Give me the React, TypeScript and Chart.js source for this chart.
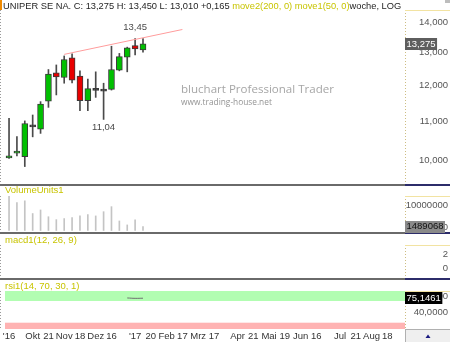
import React, { useEffect, useRef } from 'react';
import { Chart, registerables } from 'chart.js';

Chart.register(...registerables);

// ---------------- data ----------------
const weeks = ['16.09.16', '23.09.16', '30.09.16', '07.10.16', '14.10.16', '21.10.16', '28.10.16', '04.11.16', '11.11.16', '18.11.16', '25.11.16', '02.12.16', '09.12.16', '16.12.16', '23.12.16', '30.12.16', '06.01.17', '13.01.17'];
const opens = [10.05, 10.17, 10.08, 10.84, 10.78, 11.54, 12.37, 12.23, 12.83, 12.27, 11.56, 11.85, 11.83, 11.88, 12.45, 12.85, 13.22, 13.08];
const highs = [11.07, 10.59, 11.0, 11.16, 11.53, 12.47, 12.61, 12.89, 12.96, 12.43, 12.18, 12.4, 12.06, 13.2, 12.97, 13.17, 13.45, 13.45];
const lows = [10.04, 10.1, 9.84, 10.58, 10.67, 11.37, 11.72, 12.06, 12.07, 11.28, 11.28, 11.65, 11.04, 11.86, 12.43, 12.4, 12.92, 13.01];
const closes = [10.1, 10.21, 10.93, 10.84, 11.46, 12.33, 12.25, 12.78, 12.15, 11.56, 11.9, 11.85, 11.83, 12.47, 12.87, 13.15, 13.11, 13.275];
const volumes = [12900000, 10500000, 11200000, 6400000, 7750000, 5200000, 4100000, 4500000, 4900000, 5500000, 6000000, 5500000, 7100000, 9000000, 3600000, 2100000, 4000000, 1489068];
const swingHighIdx = 16;
const swingLowIdx = 12;
const trendX = [7, 22];
const trendY = [12.94, 13.75];
const rsiX = [15, 16, 17];
const rsiY = [75.6, 74.9, 75.1461];
const macdY: number[] = [];
const rsiUpper = 70;
const rsiLower = 30;
const priceTicks = [10, 11, 12, 13, 14];
const volumeTicks = [0, 10000000];
const macdTicks = [0, 2];
const rsiTicks = [40, 70];
const xTickIdx = [0, 3, 5, 7, 9, 11, 13, 16, 18, 20, 22, 24, 26, 29, 31, 33, 35, 37, 39, 42, 44, 46, 48];
const xTickLabels = ["'16", 'Okt', '21', 'Nov', '18', 'Dez', '16', "'17", '20', 'Feb', '17', 'Mrz', '17', 'Apr', '21', 'Mai', '19', 'Jun', '16', 'Jul', '21', 'Aug', '18'];
const headerParts: [string, string][] = [
  ['UNIPER SE NA. C: 13,275 H: 13,450 L: 13,010 +0,165 ', '#1e1e1e'],
  ['move2(200, 0) move1(50, 0)', '#c8c400'],
  ['woche, LOG', '#1e1e1e'],
];
const watermark1 = 'bluchart Professional Trader';
const watermark2 = 'www.trading-house.net';

// ---------------- layout / style ----------------
const W = 450;
const AXIS_W = 45;
const X_MIN = -1.02;
const X_MAX = 50.25;
const FONT = "'Liberation Sans', Arial, Helvetica, sans-serif";
const FS = 9.5;
const HEADER_FS = 9.3;
const TITLE_COLOR = '#c8c400';

const hiddenY = {
  position: 'right',
  display: true,
  grid: { display: false, drawTicks: false },
  border: { display: false },
  ticks: { display: false },
  afterFit: (s: any) => {
    s.width = AXIS_W;
  },
};
const hiddenX = { type: 'linear', min: X_MIN, max: X_MAX, display: false, offset: false };

const baseOptions = (padding: any) => ({
  responsive: false,
  animation: false,
  devicePixelRatio: 1,
  events: [],
  layout: { padding, autoPadding: false },
  plugins: { legend: { display: false }, tooltip: { enabled: false } },
});

function drawFrame(chart: any, separator: boolean) {
  const { ctx, chartArea: a, width, height } = chart;
  ctx.save();
  ctx.lineWidth = 1;
  ctx.setLineDash([1, 2]);
  ctx.strokeStyle = '#9a9a9a';
  ctx.beginPath();
  ctx.moveTo(a.left - 0.5, a.top);
  ctx.lineTo(a.left - 0.5, a.bottom);
  ctx.stroke();
  ctx.strokeStyle = '#cdbd82';
  ctx.beginPath();
  ctx.moveTo(a.right + 0.5, a.top);
  ctx.lineTo(a.right + 0.5, a.bottom);
  ctx.stroke();
  ctx.setLineDash([]);
  ctx.strokeStyle = '#f2e3a2';
  ctx.beginPath();
  ctx.moveTo(a.right, a.top + 0.5);
  ctx.lineTo(width, a.top + 0.5);
  ctx.stroke();
  if (separator) {
    ctx.fillStyle = '#6a6a6a';
    ctx.fillRect(0, height - 2, a.right, 2);
    ctx.fillStyle = '#2c2c6a';
    ctx.fillRect(a.right, height - 2, width - a.right, 2);
  }
  ctx.restore();
}

function drawTitle(chart: any, text: string, y: number) {
  const { ctx } = chart;
  ctx.save();
  ctx.font = `${FS}px ${FONT}`;
  ctx.fillStyle = TITLE_COLOR;
  ctx.textAlign = 'left';
  ctx.textBaseline = 'middle';
  ctx.fillText(text, 5, y);
  ctx.restore();
}

function drawYLabels(chart: any, ticks: number[], fmt: (v: number) => string, offset: number) {
  const { ctx, chartArea: a } = chart;
  const s = chart.scales.y;
  ctx.save();
  ctx.font = `${FS}px ${FONT}`;
  ctx.fillStyle = '#555';
  ctx.textAlign = 'right';
  ctx.textBaseline = 'middle';
  ticks.forEach((v) => {
    let y = s.getPixelForValue(v) + offset;
    y = Math.max(a.top + 4, Math.min(a.bottom - 4.5, y));
    ctx.fillText(fmt(v), 448, y);
  });
  ctx.restore();
}

function drawValueBox(chart: any, value: number, text: string, bg: string, fg: string) {
  const { ctx, chartArea: a } = chart;
  const s = chart.scales.y;
  ctx.save();
  ctx.font = `${FS}px ${FONT}`;
  const w = ctx.measureText(text).width + 3;
  let y = s.getPixelForValue(value);
  y = Math.max(a.top + 6, Math.min(a.bottom - 5, y));
  ctx.fillStyle = bg;
  ctx.fillRect(a.right, Math.round(y - 6), w, 12);
  ctx.fillStyle = fg;
  ctx.textAlign = 'left';
  ctx.textBaseline = 'middle';
  ctx.fillText(text, a.right + 1.5, y);
  ctx.restore();
}

const comma = (v: number, d: number) => v.toFixed(d).replace('.', ',');

// ---------------- configs ----------------
function priceConfig(): any {
  const bodyColors = opens.map((o, i) => (closes[i] > o ? '#00c000' : closes[i] < o ? '#e80000' : '#333'));
  return {
    type: 'bar',
    data: {
      labels: weeks,
      datasets: [
        {
          type: 'line',
          data: trendX.map((x, i) => ({ x, y: trendY[i] })),
          borderColor: '#ff9c9c',
          borderWidth: 1,
          pointRadius: 0,
          order: 1,
        },
        {
          type: 'bar',
          data: opens.map((o, i) => ({ x: i, y: [o, closes[i]] })),
          backgroundColor: bodyColors,
          borderColor: '#3a3a3a',
          borderWidth: 1,
          borderSkipped: false,
          barThickness: 6,
          minBarLength: 2,
          grouped: false,
          order: 2,
        },
        {
          type: 'bar',
          data: lows.map((l, i) => ({ x: i, y: [l, highs[i]] })),
          backgroundColor: '#4a4a4a',
          barThickness: 1,
          grouped: false,
          order: 3,
        },
      ],
    },
    options: {
      ...baseOptions({ top: 10, bottom: 2, left: 1, right: 0 }),
      scales: {
        x: hiddenX,
        y: { ...hiddenY, type: 'logarithmic', min: 9.43, max: 14.42, bounds: 'data' },
      },
    },
    plugins: [
      {
        id: 'priceDecor',
        beforeDatasetsDraw(chart: any) {
          drawFrame(chart, true);
          const { ctx } = chart;
          ctx.save();
          ctx.textAlign = 'left';
          ctx.textBaseline = 'middle';
          ctx.font = `10px 'Open Sans', 'DejaVu Sans', sans-serif`;
          const f1 = (10 * 153) / ctx.measureText(watermark1).width;
          ctx.font = `${f1}px 'Open Sans', 'DejaVu Sans', sans-serif`;
          ctx.fillStyle = '#a6a6a6';
          ctx.fillText(watermark1, 181, 90);
          ctx.font = `10px 'Open Sans', 'DejaVu Sans', sans-serif`;
          const f2 = (10 * 91) / ctx.measureText(watermark2).width;
          ctx.font = `${f2}px 'Open Sans', 'DejaVu Sans', sans-serif`;
          ctx.fillStyle = '#939393';
          ctx.fillText(watermark2, 181, 103);
          ctx.restore();
        },
        afterDraw(chart: any) {
          const { ctx } = chart;
          const xs = chart.scales.x;
          const ys = chart.scales.y;
          ctx.save();
          ctx.fillStyle = '#f08a00';
          ctx.fillRect(0, 0, 2, 10);
          ctx.fillStyle = '#bdbdbd';
          ctx.fillRect(445, 0, 5, 3);
          ctx.font = `${HEADER_FS}px ${FONT}`;
          ctx.textBaseline = 'middle';
          ctx.textAlign = 'left';
          let x = 3;
          headerParts.forEach(([t, c]) => {
            ctx.fillStyle = c;
            ctx.fillText(t, x, 6.5);
            x += ctx.measureText(t).width;
          });
          // swing high / low annotations
          const hi = highs[swingHighIdx];
          const lo = lows[swingLowIdx];
          ctx.font = `${FS}px ${FONT}`;
          ctx.fillStyle = '#4a4a4a';
          ctx.textAlign = 'center';
          ctx.fillText(comma(hi, 2), xs.getPixelForValue(swingHighIdx), ys.getPixelForValue(hi) - 11.5);
          ctx.fillText(comma(lo, 2), xs.getPixelForValue(swingLowIdx), ys.getPixelForValue(lo) + 8);
          ctx.restore();
          drawYLabels(chart, priceTicks, (v) => comma(v, 3), 0);
          drawValueBox(chart, closes[closes.length - 1], comma(closes[closes.length - 1], 3), '#5e5e5e', '#ffffff');
        },
      },
    ],
  };
}

function volumeConfig(): any {
  return {
    type: 'bar',
    data: {
      labels: weeks,
      datasets: [
        {
          data: volumes.map((v, i) => ({ x: i, y: v })),
          backgroundColor: '#c4c4c4',
          barThickness: 1,
          grouped: false,
        },
      ],
    },
    options: {
      ...baseOptions({ top: 10, bottom: 2, left: 1, right: 0 }),
      scales: {
        x: hiddenX,
        y: { ...hiddenY, type: 'linear', min: -570000, max: 13020000, bounds: 'data' },
      },
    },
    plugins: [
      {
        id: 'volDecor',
        beforeDatasetsDraw(chart: any) {
          drawFrame(chart, true);
        },
        afterDraw(chart: any) {
          drawTitle(chart, 'VolumeUnits1', 4.5);
          drawYLabels(chart, volumeTicks, (v) => String(v), 1);
          const last = volumes[volumes.length - 1];
          drawValueBox(chart, last, String(last), '#8a8a8a', '#111');
        },
      },
    ],
  };
}

function macdConfig(): any {
  return {
    type: 'line',
    data: {
      labels: weeks,
      datasets: [{ data: macdY.map((v, i) => ({ x: i, y: v })), borderColor: '#666', borderWidth: 1, pointRadius: 0 }],
    },
    options: {
      ...baseOptions({ top: 11, bottom: 2, left: 1, right: 0 }),
      scales: {
        x: hiddenX,
        y: { ...hiddenY, type: 'linear', min: -1.43, max: 3.29, bounds: 'data' },
      },
    },
    plugins: [
      {
        id: 'macdDecor',
        beforeDatasetsDraw(chart: any) {
          drawFrame(chart, true);
        },
        afterDraw(chart: any) {
          drawTitle(chart, 'macd1(12, 26, 9)', 6.5);
          drawYLabels(chart, macdTicks, (v) => String(v), 0);
        },
      },
    ],
  };
}

function rsiConfig(): any {
  return {
    type: 'line',
    data: {
      labels: weeks,
      datasets: [
        {
          data: rsiX.map((x, i) => ({ x, y: rsiY[i] })),
          borderColor: '#707070',
          borderWidth: 1,
          pointRadius: 0,
          tension: 0.4,
        },
      ],
    },
    options: {
      ...baseOptions({ top: 11, bottom: 0, left: 1, right: 0 }),
      scales: {
        x: {
          type: 'linear',
          min: X_MIN,
          max: X_MAX,
          offset: false,
          display: true,
          grid: { display: false, drawTicks: false },
          border: { display: false },
          afterBuildTicks: (s: any) => {
            s.ticks = xTickIdx.map((v) => ({ value: v }));
          },
          afterFit: (s: any) => {
            s.height = 13;
          },
          ticks: {
            autoSkip: false,
            maxRotation: 0,
            minRotation: 0,
            padding: 2,
            color: '#333',
            font: { size: FS, family: FONT },
            callback: (_v: any, i: number) => xTickLabels[i],
          },
        },
        y: { ...hiddenY, type: 'linear', min: 18.39, max: 88.43, bounds: 'data' },
      },
    },
    plugins: [
      {
        id: 'rsiDecor',
        beforeDatasetsDraw(chart: any) {
          const { ctx, chartArea: a, width, height } = chart;
          const s = chart.scales.y;
          const yU = s.getPixelForValue(rsiUpper);
          const yL = s.getPixelForValue(rsiLower);
          ctx.save();
          ctx.fillStyle = '#b2fdb2';
          ctx.fillRect(a.left + 4, a.top, a.right - a.left - 4, yU - a.top);
          ctx.fillStyle = '#ffb3b3';
          ctx.fillRect(a.left + 4, yL, a.right - a.left - 4, a.bottom - yL);
          ctx.fillStyle = '#efefef';
          ctx.fillRect(a.right, a.bottom, width - a.right, height - a.bottom);
          ctx.strokeStyle = '#b0b0b0';
          ctx.lineWidth = 1;
          ctx.beginPath();
          ctx.moveTo(a.right, a.bottom + 0.5);
          ctx.lineTo(width, a.bottom + 0.5);
          ctx.moveTo(a.right + 0.5, a.bottom);
          ctx.lineTo(a.right + 0.5, height);
          ctx.stroke();
          ctx.fillStyle = '#1a1a80';
          ctx.beginPath();
          ctx.moveTo(428, a.bottom + 5.5);
          ctx.lineTo(425.5, a.bottom + 9);
          ctx.lineTo(430.5, a.bottom + 9);
          ctx.closePath();
          ctx.fill();
          ctx.restore();
          drawFrame(chart, false);
        },
        afterDraw(chart: any) {
          drawTitle(chart, 'rsi1(14, 70, 30, 1)', 6);
          drawYLabels(chart, rsiTicks, (v) => comma(v, 4), -4.5);
          const last = rsiY[rsiY.length - 1];
          drawValueBox(chart, last, comma(last, 4), '#000', '#fff');
        },
      },
    ],
  };
}

export default function App() {
  const r1 = useRef<HTMLCanvasElement>(null);
  const r2 = useRef<HTMLCanvasElement>(null);
  const r3 = useRef<HTMLCanvasElement>(null);
  const r4 = useRef<HTMLCanvasElement>(null);

  useEffect(() => {
    const charts = [
      new Chart(r1.current as HTMLCanvasElement, priceConfig()),
      new Chart(r2.current as HTMLCanvasElement, volumeConfig()),
      new Chart(r3.current as HTMLCanvasElement, macdConfig()),
      new Chart(r4.current as HTMLCanvasElement, rsiConfig()),
    ];
    return () => charts.forEach((c) => c.destroy());
  }, []);

  const cs = (top: number): React.CSSProperties => ({ position: 'absolute', left: 0, top, display: 'block' });
  return (
    <div style={{ position: 'absolute', left: 0, top: 0, width: W, height: 342, background: '#fff', overflow: 'hidden' }}>
      <canvas ref={r1} width={W} height={186} style={cs(0)} />
      <canvas ref={r2} width={W} height={48} style={cs(186)} />
      <canvas ref={r3} width={W} height={46} style={cs(234)} />
      <canvas ref={r4} width={W} height={62} style={cs(280)} />
    </div>
  );
}
